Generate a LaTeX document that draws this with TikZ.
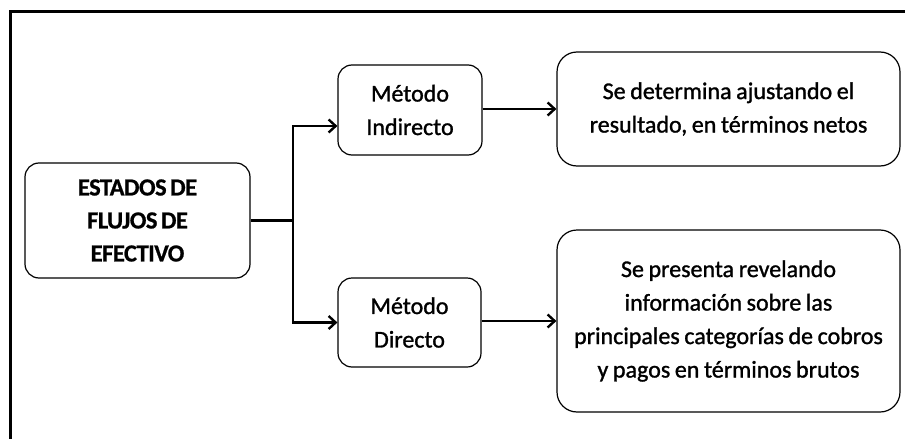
\documentclass[tikz,border=0pt]{standalone}
\usepackage{fontspec}
\setmainfont{Carlito}
\newfontfamily\scanfont[FakeBold=1.2,WordSpace=0.85]{Carlito}
\newfontfamily\scanbold[FakeBold=0.8,WordSpace=0.7,LetterSpace=-2]{Carlito Bold}
\usetikzlibrary{arrows.meta,calc}
\begin{document}
\begin{tikzpicture}[x=1pt,y=-1pt,
  box/.style={draw=black,line width=1.2pt,rounded corners=14pt,align=center,inner sep=0pt,
    font=\scanfont\fontsize{24}{33.5}\selectfont},
  bigbox/.style={box,rounded corners=20pt},
  conn/.style={draw=black,line width=2.8pt},
  arr/.style={conn,-{Straight Barb[length=7pt,width=13pt,line width=2.4pt]}}]
\useasboundingbox (0,0) rectangle (905,439);
\draw[line width=3pt] (10,439) -- (10,11) -- (905,11);
\node[box,minimum width=225pt,minimum height=115pt,font=\scanbold\fontsize{24.5}{33}\selectfont] (estados) at (137.5,220.5) {ESTADOS DE\\FLUJOS DE\\EFECTIVO};
\node[box,minimum width=144pt,minimum height=90pt] (indir) at (410,110) {Método\\Indirecto};
\node[box,minimum width=143pt,minimum height=89pt] (dir) at (409.5,322.5) {Método\\Directo};
\node[bigbox,minimum width=343pt,minimum height=114pt] (det) at (728.5,109) {Se determina ajustando el\\resultado, en términos netos};
\node[bigbox,minimum width=343pt,minimum height=182pt] (pres) at (728.5,321) {Se presenta revelando\\información sobre las\\principales categorías de cobros\\y pagos en términos brutos};
\coordinate (j) at (293,220.5);
\draw[conn] (estados.east) -- (j);
\draw[arr] (j) |- ($(indir.west)+(0,16)$);
\draw[arr] (j) |- (dir.west);
\draw[arr] (indir.east |- det.west) -- (det.west);
\draw[arr] (dir.east |- pres.west) -- (pres.west);
\end{tikzpicture}
\end{document}
